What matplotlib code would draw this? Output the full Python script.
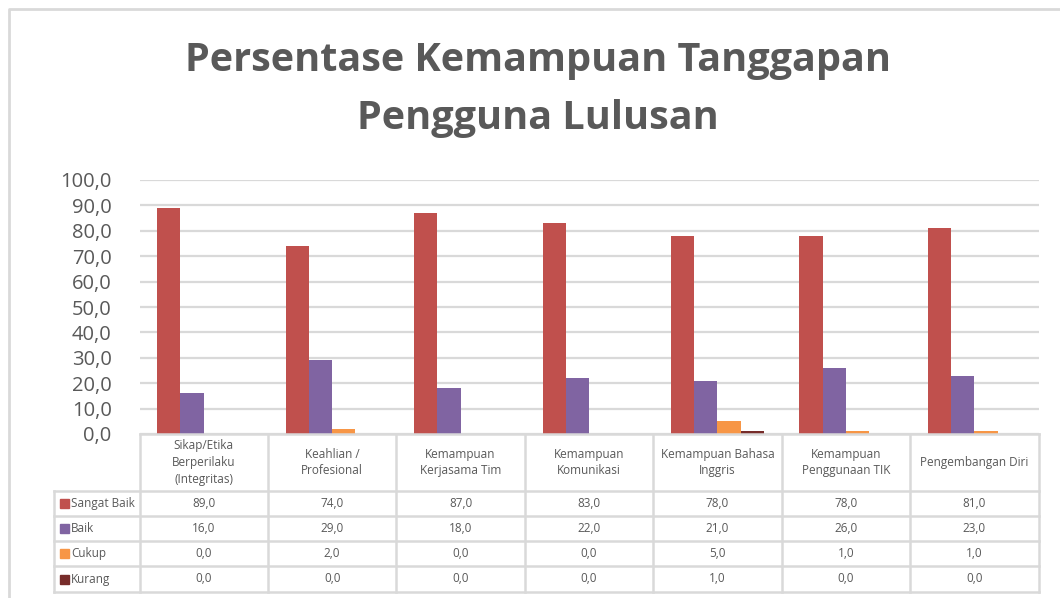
import matplotlib.pyplot as plt
import numpy as np
from matplotlib.patches import Rectangle

# Data
categories = ['Sikap/Etika\nBerperilaku\n(Integritas)', 'Keahlian /\nProfesional',
              'Kemampuan\nKerjasama Tim', 'Kemampuan\nKomunikasi',
              'Kemampuan Bahasa\nInggris', 'Kemampuan\nPenggunaan TIK', 'Pengembangan Diri']
series = ['Sangat Baik', 'Baik', 'Cukup', 'Kurang']
sangat_baik = [89, 74, 87, 83, 78, 78, 81]
baik = [16, 29, 18, 22, 21, 26, 23]
cukup = [0, 2, 0, 0, 5, 1, 1]
kurang = [0, 0, 0, 0, 1, 0, 0]
values = [sangat_baik, baik, cukup, kurang]
colors = ['#C0504D', '#8064A2', '#F79646', '#772C2A']

W, H = 1060, 598
fig = plt.figure(figsize=(W / 100, H / 100), dpi=100)
plt.rcParams['font.family'] = ['Open Sans', 'DejaVu Sans']
txt = '#595959'
grid = '#D9D9D9'

# plot area in pixels
x0, x1 = 139.5, 1038.5
y_top, y_zero = 180, 434
ax = fig.add_axes([x0 / W, 1 - y_zero / H, (x1 - x0) / W, (y_zero - y_top) / H])

n = len(categories)
x = np.arange(n)
w = 0.181
for i, (vals, c) in enumerate(zip(values, colors)):
    ax.bar(x + (i - 1.5) * w, vals, w, color=c, zorder=3)

ax.set_xlim(-0.5, n - 0.5)
ax.set_ylim(0, 100)
ax.set_yticks(np.arange(0, 101, 10))
ax.set_yticklabels([f'{v:.1f}'.replace('.', ',') for v in range(0, 101, 10)],
                   fontsize=14.5, color=txt)
ax.tick_params(axis='y', length=0, pad=20)
ax.set_xticks([])
ax.grid(axis='y', color=grid, linewidth=1.6, zorder=0)
for s in ax.spines.values():
    s.set_visible(False)

# overlay in pixel coordinates for table, title and border
ov2 = fig.add_axes([0, 0, 1, 1])
ov2.set_xlim(0, W)
ov2.set_ylim(H, 0)
ov2.axis('off')
ov2.patch.set_alpha(0)

# chart border
ov2.plot([9, 9, W + 5], [H + 5, 9, 9], color=grid, lw=2)

# title
ov2.text(538, 60, 'Persentase Kemampuan Tanggapan', ha='center', va='center',
         fontsize=28.5, fontweight='bold', color=txt)
ov2.text(538, 118, 'Pengguna Lulusan', ha='center', va='center',
         fontsize=28.5, fontweight='bold', color=txt)

# data table
colw = (x1 - x0) / n
row_edges = [y_zero, 491, 516, 541, 566, 592]
lab_x = 54
lc = dict(color=grid, lw=1.8)
# horizontal lines
ov2.plot([x0, x1], [y_zero, y_zero], **lc)
for y in row_edges[1:]:
    ov2.plot([lab_x, x1], [y, y], **lc)
# vertical lines
for j in range(n + 1):
    ov2.plot([x0 + j * colw] * 2, [y_zero, row_edges[-1]], **lc)
ov2.plot([lab_x, lab_x], [row_edges[1], row_edges[-1]], **lc)

for j, cat in enumerate(categories):
    cx = x0 + (j + 0.5) * colw
    ov2.text(cx, (row_edges[0] + row_edges[1]) / 2, cat, ha='center', va='center',
             fontsize=8.5, color=txt, linespacing=1.35)
for i, (name, vals, c) in enumerate(zip(series, values, colors)):
    cy = (row_edges[i + 1] + row_edges[i + 2]) / 2
    ov2.add_patch(Rectangle((60, cy - 4.5), 9, 9, color=c))
    ov2.text(71, cy, name, ha='left', va='center', fontsize=8.5, color=txt)
    for j, v in enumerate(vals):
        ov2.text(x0 + (j + 0.5) * colw, cy, f'{v:.1f}'.replace('.', ','),
                 ha='center', va='center', fontsize=8.5, color=txt)

fig.savefig('out.png', dpi=100, facecolor='white')
